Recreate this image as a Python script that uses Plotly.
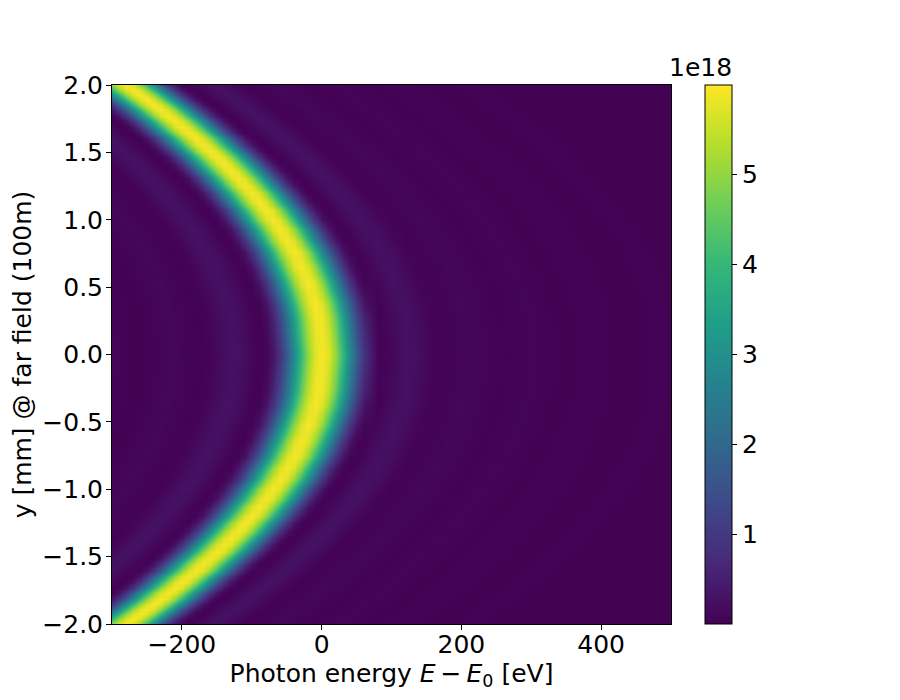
import plotly.graph_objects as go

# Photon energy columns [eV]
energy_ev = [-300,-290,-280,-270,-260,-250,-240,-230,-220,-210,-200,-190,-180,-170,-160,-150,-140,-130,-120,-110,-100,-90,-80,-70,-60,-50,-40,-30,-20,-10,0,10,20,30,40,50,60,
             80,100,120,140,160,180,200,220,240,260,280,300,320,340,360,380,400,420,440,460,480,500]
# |y| rows [mm], read along the bright ridge
y_abs_mm = [0,0.27,0.38,0.53,0.65,0.76,0.845,0.93,1.0,1.07,1.134,1.195,1.254,1.31,1.363,1.414,1.464,1.512,1.558,1.604,1.647,1.69,1.732,1.773,1.813,1.852,1.89,1.927,1.964,2.0]

# Intensity in units of 1e18, one list per |y| row
row_000 = [.05,.05,.03,.02,.02,.02,.04,.07,.09,.10,.07,.04,.02,.02,.05,.12,.21,.27,.27,.20,.09,.02,.05,.31,.87,1.73,2.81,3.96,4.99,5.69,5.95,5.69,4.99,3.96,2.81,1.73,.87,
           .05,.09,.27,.21,.05,.02,.07,.09,.04,.02,.03,.05,.04,.02,.02,.03,.03,.02,.02,.02,.03,.03]
row_005 = [.05,.04,.02,.02,.02,.03,.05,.08,.10,.09,.05,.03,.02,.03,.08,.16,.24,.27,.24,.14,.04,.02,.14,.57,1.26,2.25,3.39,4.5,5.38,5.88,5.88,5.38,4.5,3.39,2.25,1.26,.57,
           .02,.14,.27,.16,.03,.03,.09,.08,.03,.02,.04,.05,.03,.02,.02,.03,.03,.02,.02,.02,.03,.03]
row_010 = [.05,.03,.02,.02,.02,.04,.07,.09,.10,.07,.04,.02,.02,.05,.12,.21,.27,.27,.20,.09,.02,.05,.31,.87,1.73,2.81,3.96,4.99,5.69,5.95,5.69,4.99,3.96,2.81,1.73,.87,.31,
           .02,.20,.27,.12,.02,.04,.10,.07,.02,.02,.05,.05,.02,.02,.03,.03,.03,.02,.02,.02,.03,.02]
row_020 = [.03,.02,.02,.02,.04,.07,.09,.10,.07,.04,.02,.02,.05,.12,.21,.27,.27,.20,.09,.02,.05,.31,.87,1.73,2.81,3.96,4.99,5.69,5.95,5.69,4.99,3.96,2.81,1.73,.87,.31,.05,
           .09,.27,.21,.05,.02,.07,.09,.04,.02,.03,.05,.04,.02,.02,.03,.03,.02,.02,.02,.03,.03,.02]
row_030 = [.02,.02,.02,.04,.07,.09,.10,.07,.04,.02,.02,.05,.12,.21,.27,.27,.20,.09,.02,.05,.31,.87,1.73,2.81,3.96,4.99,5.69,5.95,5.69,4.99,3.96,2.81,1.73,.87,.31,.05,.02,
           .20,.27,.12,.02,.04,.10,.07,.02,.02,.05,.05,.02,.02,.03,.03,.03,.02,.02,.02,.03,.02,.02]
row_040 = [.02,.02,.04,.07,.09,.10,.07,.04,.02,.02,.05,.12,.21,.27,.27,.20,.09,.02,.05,.31,.87,1.73,2.81,3.96,4.99,5.69,5.95,5.69,4.99,3.96,2.81,1.73,.87,.31,.05,.02,.09,
           .27,.21,.05,.02,.07,.09,.04,.02,.03,.05,.04,.02,.02,.03,.03,.02,.02,.02,.03,.03,.02,.02]
row_050 = [.02,.04,.07,.09,.10,.07,.04,.02,.02,.05,.12,.21,.27,.27,.20,.09,.02,.05,.31,.87,1.73,2.81,3.96,4.99,5.69,5.95,5.69,4.99,3.96,2.81,1.73,.87,.31,.05,.02,.09,.20,
           .27,.12,.02,.04,.10,.07,.02,.02,.05,.05,.02,.02,.03,.03,.03,.02,.02,.02,.03,.02,.02,.02]
row_060 = [.04,.07,.09,.10,.07,.04,.02,.02,.05,.12,.21,.27,.27,.20,.09,.02,.05,.31,.87,1.73,2.81,3.96,4.99,5.69,5.95,5.69,4.99,3.96,2.81,1.73,.87,.31,.05,.02,.09,.20,.27,
           .21,.05,.02,.07,.09,.04,.02,.03,.05,.04,.02,.02,.03,.03,.02,.02,.02,.03,.03,.02,.02,.02]
row_070 = [.07,.09,.10,.07,.04,.02,.02,.05,.12,.21,.27,.27,.20,.09,.02,.05,.31,.87,1.73,2.81,3.96,4.99,5.69,5.95,5.69,4.99,3.96,2.81,1.73,.87,.31,.05,.02,.09,.20,.27,.27,
           .12,.02,.04,.10,.07,.02,.02,.05,.05,.02,.02,.03,.03,.03,.02,.02,.02,.03,.02,.02,.02,.02]
row_080 = [.09,.10,.07,.04,.02,.02,.05,.12,.21,.27,.27,.20,.09,.02,.05,.31,.87,1.73,2.81,3.96,4.99,5.69,5.95,5.69,4.99,3.96,2.81,1.73,.87,.31,.05,.02,.09,.20,.27,.27,.21,
           .05,.02,.07,.09,.04,.02,.03,.05,.04,.02,.02,.03,.03,.02,.02,.02,.03,.03,.02,.02,.02,.02]
row_090 = [.10,.07,.04,.02,.02,.05,.12,.21,.27,.27,.20,.09,.02,.05,.31,.87,1.73,2.81,3.96,4.99,5.69,5.95,5.69,4.99,3.96,2.81,1.73,.87,.31,.05,.02,.09,.20,.27,.27,.21,.12,
           .02,.04,.10,.07,.02,.02,.05,.05,.02,.02,.03,.03,.03,.02,.02,.02,.03,.02,.02,.02,.02,.02]
row_100 = [.07,.04,.02,.02,.05,.12,.21,.27,.27,.20,.09,.02,.05,.31,.87,1.73,2.81,3.96,4.99,5.69,5.95,5.69,4.99,3.96,2.81,1.73,.87,.31,.05,.02,.09,.20,.27,.27,.21,.12,.05,
           .02,.07,.09,.04,.02,.03,.05,.04,.02,.02,.03,.03,.02,.02,.02,.03,.03,.02,.02,.02,.02,.02]
row_110 = [.04,.02,.02,.05,.12,.21,.27,.27,.20,.09,.02,.05,.31,.87,1.73,2.81,3.96,4.99,5.69,5.95,5.69,4.99,3.96,2.81,1.73,.87,.31,.05,.02,.09,.20,.27,.27,.21,.12,.05,.02,
           .04,.10,.07,.02,.02,.05,.05,.02,.02,.03,.03,.03,.02,.02,.02,.03,.02,.02,.02,.02,.02,.02]
row_120 = [.02,.02,.05,.12,.21,.27,.27,.20,.09,.02,.05,.31,.87,1.73,2.81,3.96,4.99,5.69,5.95,5.69,4.99,3.96,2.81,1.73,.87,.31,.05,.02,.09,.20,.27,.27,.21,.12,.05,.02,.02,
           .07,.09,.04,.02,.03,.05,.04,.02,.02,.03,.03,.02,.02,.02,.03,.03,.02,.02,.02,.02,.02,.02]
row_130 = [.02,.05,.12,.21,.27,.27,.20,.09,.02,.05,.31,.87,1.73,2.81,3.96,4.99,5.69,5.95,5.69,4.99,3.96,2.81,1.73,.87,.31,.05,.02,.09,.20,.27,.27,.21,.12,.05,.02,.02,.04,
           .10,.07,.02,.02,.05,.05,.02,.02,.03,.03,.03,.02,.02,.02,.03,.02,.02,.02,.02,.02,.02,.02]
row_140 = [.05,.12,.21,.27,.27,.20,.09,.02,.05,.31,.87,1.73,2.81,3.96,4.99,5.69,5.95,5.69,4.99,3.96,2.81,1.73,.87,.31,.05,.02,.09,.20,.27,.27,.21,.12,.05,.02,.02,.04,.07,
           .09,.04,.02,.03,.05,.04,.02,.02,.03,.03,.02,.02,.02,.03,.03,.02,.02,.02,.02,.02,.02,.02]
row_150 = [.12,.21,.27,.27,.20,.09,.02,.05,.31,.87,1.73,2.81,3.96,4.99,5.69,5.95,5.69,4.99,3.96,2.81,1.73,.87,.31,.05,.02,.09,.20,.27,.27,.21,.12,.05,.02,.02,.04,.07,.10,
           .07,.02,.02,.05,.05,.02,.02,.03,.03,.03,.02,.02,.02,.03,.02,.02,.02,.02,.02,.02,.02,.02]
row_160 = [.21,.27,.27,.20,.09,.02,.05,.31,.87,1.73,2.81,3.96,4.99,5.69,5.95,5.69,4.99,3.96,2.81,1.73,.87,.31,.05,.02,.09,.20,.27,.27,.21,.12,.05,.02,.02,.04,.07,.10,.09,
           .04,.02,.03,.05,.04,.02,.02,.03,.03,.02,.02,.02,.03,.03,.02,.02,.02,.02,.02,.02,.02,.02]
row_170 = [.27,.27,.20,.09,.02,.05,.31,.87,1.73,2.81,3.96,4.99,5.69,5.95,5.69,4.99,3.96,2.81,1.73,.87,.31,.05,.02,.09,.20,.27,.27,.21,.12,.05,.02,.02,.04,.07,.10,.09,.07,
           .02,.02,.05,.05,.02,.02,.03,.03,.03,.02,.02,.02,.03,.02,.02,.02,.02,.02,.02,.02,.02,.02]
row_180 = [.27,.20,.09,.02,.05,.31,.87,1.73,2.81,3.96,4.99,5.69,5.95,5.69,4.99,3.96,2.81,1.73,.87,.31,.05,.02,.09,.20,.27,.27,.21,.12,.05,.02,.02,.04,.07,.10,.09,.07,.04,
           .02,.03,.05,.04,.02,.02,.03,.03,.02,.02,.02,.03,.03,.02,.02,.02,.02,.02,.02,.02,.02,.02]
row_190 = [.20,.09,.02,.05,.31,.87,1.73,2.81,3.96,4.99,5.69,5.95,5.69,4.99,3.96,2.81,1.73,.87,.31,.05,.02,.09,.20,.27,.27,.21,.12,.05,.02,.02,.04,.07,.10,.09,.07,.04,.02,
           .02,.05,.05,.02,.02,.03,.03,.03,.02,.02,.02,.03,.02,.02,.02,.02,.02,.02,.02,.02,.02,.02]
row_200 = [.09,.02,.05,.31,.87,1.73,2.81,3.96,4.99,5.69,5.95,5.69,4.99,3.96,2.81,1.73,.87,.31,.05,.02,.09,.20,.27,.27,.21,.12,.05,.02,.02,.04,.07,.10,.09,.07,.04,.02,.02,
           .03,.05,.04,.02,.02,.03,.03,.02,.02,.02,.03,.03,.02,.02,.02,.02,.02,.02,.02,.02,.02,.02]
row_210 = [.02,.05,.31,.87,1.73,2.81,3.96,4.99,5.69,5.95,5.69,4.99,3.96,2.81,1.73,.87,.31,.05,.02,.09,.20,.27,.27,.21,.12,.05,.02,.02,.04,.07,.10,.09,.07,.04,.02,.02,.02,
           .05,.05,.02,.02,.03,.03,.03,.02,.02,.02,.03,.02,.02,.02,.02,.02,.02,.02,.02,.02,.02,.02]
row_220 = [.05,.31,.87,1.73,2.81,3.96,4.99,5.69,5.95,5.69,4.99,3.96,2.81,1.73,.87,.31,.05,.02,.09,.20,.27,.27,.21,.12,.05,.02,.02,.04,.07,.10,.09,.07,.04,.02,.02,.02,.03,
           .05,.04,.02,.02,.03,.03,.02,.02,.02,.03,.03,.02,.02,.02,.02,.02,.02,.02,.02,.02,.02,.02]
row_230 = [.31,.87,1.73,2.81,3.96,4.99,5.69,5.95,5.69,4.99,3.96,2.81,1.73,.87,.31,.05,.02,.09,.20,.27,.27,.21,.12,.05,.02,.02,.04,.07,.10,.09,.07,.04,.02,.02,.02,.03,.05,
           .05,.02,.02,.03,.03,.03,.02,.02,.02,.03,.02,.02,.02,.02,.02,.02,.02,.02,.02,.02,.02,.02]
row_240 = [.87,1.73,2.81,3.96,4.99,5.69,5.95,5.69,4.99,3.96,2.81,1.73,.87,.31,.05,.02,.09,.20,.27,.27,.21,.12,.05,.02,.02,.04,.07,.10,.09,.07,.04,.02,.02,.02,.03,.05,.05,
           .04,.02,.02,.03,.03,.02,.02,.02,.03,.03,.02,.02,.02,.02,.02,.02,.02,.02,.02,.02,.02,.02]
row_250 = [1.73,2.81,3.96,4.99,5.69,5.95,5.69,4.99,3.96,2.81,1.73,.87,.31,.05,.02,.09,.20,.27,.27,.21,.12,.05,.02,.02,.04,.07,.10,.09,.07,.04,.02,.02,.02,.03,.05,.05,.05,
           .02,.02,.03,.03,.03,.02,.02,.02,.03,.02,.02,.02,.02,.02,.02,.02,.02,.02,.02,.02,.02,.02]
row_260 = [2.81,3.96,4.99,5.69,5.95,5.69,4.99,3.96,2.81,1.73,.87,.31,.05,.02,.09,.20,.27,.27,.21,.12,.05,.02,.02,.04,.07,.10,.09,.07,.04,.02,.02,.02,.03,.05,.05,.05,.04,
           .02,.02,.03,.03,.02,.02,.02,.03,.03,.02,.02,.02,.02,.02,.02,.02,.02,.02,.02,.02,.02,.02]
row_270 = [3.96,4.99,5.69,5.95,5.69,4.99,3.96,2.81,1.73,.87,.31,.05,.02,.09,.20,.27,.27,.21,.12,.05,.02,.02,.04,.07,.10,.09,.07,.04,.02,.02,.02,.03,.05,.05,.05,.04,.02,
           .02,.03,.03,.03,.02,.02,.02,.03,.02,.02,.02,.02,.02,.02,.02,.02,.02,.02,.02,.02,.02,.02]
row_280 = [4.99,5.69,5.95,5.69,4.99,3.96,2.81,1.73,.87,.31,.05,.02,.09,.20,.27,.27,.21,.12,.05,.02,.02,.04,.07,.10,.09,.07,.04,.02,.02,.02,.03,.05,.05,.05,.04,.02,.02,
           .02,.03,.03,.02,.02,.02,.03,.03,.02,.02,.02,.02,.02,.02,.02,.02,.02,.02,.02,.02,.02,.02]

upper_rows = [row_000,row_005,row_010,row_020,row_030,row_040,row_050,row_060,row_070,row_080,row_090,row_100,row_110,row_120,row_130,row_140,
              row_150,row_160,row_170,row_180,row_190,row_200,row_210,row_220,row_230,row_240,row_250,row_260,row_270,row_280]
assert len(upper_rows) == len(y_abs_mm)
for r in upper_rows:
    assert len(r) == len(energy_ev), len(r)

y_mm = [-v for v in y_abs_mm[:0:-1]] + y_abs_mm
z = upper_rows[:0:-1] + upper_rows

x_ticks = [-200, 0, 200, 400]
y_ticks = [-2.0, -1.5, -1.0, -0.5, 0.0, 0.5, 1.0, 1.5, 2.0]
cbar_ticks = [1, 2, 3, 4, 5]

W, H = 900, 700
L, R, T, B = 104, 663, 77, 616
FONT = "DejaVu Sans"
SIZE = 25

fig = go.Figure(go.Heatmap(
    x=energy_ev, y=y_mm, z=z, colorscale="Viridis", zmin=0.0, zmax=5.99,
    zsmooth="best", hoverinfo="skip",
    colorbar=dict(
        xref="paper", yref="paper", x=697/W, xanchor="left", y=1-T/H, yanchor="top",
        thicknessmode="pixels", thickness=27, lenmode="fraction", len=(B-T)/H,
        outlinecolor="black", outlinewidth=1, ticks="outside", ticklen=5, tickwidth=1,
        tickcolor="black", tickvals=cbar_ticks, tickfont=dict(family=FONT, size=SIZE, color="black"),
        xpad=0, ypad=0),
))
axis_common = dict(showgrid=False, zeroline=False, showline=True, linecolor="black", linewidth=1,
                   mirror=True, ticks="outside", ticklen=5, tickwidth=1, tickcolor="black",
                   tickfont=dict(family=FONT, size=SIZE, color="black"))
fig.update_layout(
    width=W, height=H, margin=dict(l=0, r=0, t=0, b=0),
    paper_bgcolor="white", plot_bgcolor="white", font=dict(family=FONT, color="black"),
    xaxis=dict(domain=[L/W, R/W], range=[-300, 500], tickvals=x_ticks, automargin=False, ticklabelstandoff=-7,
               title=dict(text="Photon energy <i>E</i>\u2009−\u2009<i>E</i><sub>0</sub> [eV]", font=dict(family=FONT, size=SIZE), standoff=2),
               **axis_common),
    yaxis=dict(domain=[1-B/H, 1-T/H], range=[-2, 2], tickvals=y_ticks, tickformat=".1f", automargin=False, ticklabelstandoff=-2,
               title=dict(text="y [mm] @ far field (100m)", font=dict(family=FONT, size=SIZE), standoff=6),
               **axis_common),
    annotations=[dict(text="1e18", xref="paper", yref="paper", x=724/W, y=1-74/H, xanchor="right", yanchor="bottom",
                      showarrow=False, font=dict(family=FONT, size=SIZE, color="black"), borderpad=0, borderwidth=0)],
)
fig.write_html("out.html")
